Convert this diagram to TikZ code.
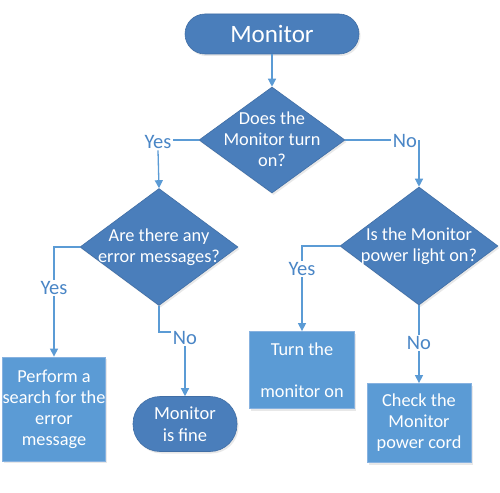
\documentclass[tikz,border=0pt]{standalone}
\usepackage{fontspec}
\setmainfont{Carlito}
\usetikzlibrary{shapes.geometric,arrows.meta,shadows}
\definecolor{dkblue}{RGB}{74,126,187}
\definecolor{dkedge}{RGB}{64,110,165}
\definecolor{ltblue}{RGB}{91,155,213}
\definecolor{ltedge}{RGB}{135,178,224}
\definecolor{lnblue}{RGB}{91,155,213}
\definecolor{lblblue}{RGB}{74,134,198}
\begin{document}
\begin{tikzpicture}[x=1pt,y=-1pt,
  txt/.style={font=\fontsize{18.3}{21}\selectfont, text=white, align=center, inner sep=0pt},
  shad/.style={drop shadow={opacity=0.18, shadow xshift=1.5pt, shadow yshift=-2pt}},
  term/.style={txt, rectangle, fill=dkblue, draw=dkedge, line width=0.6pt, shad},
  dia/.style={diamond, fill=dkblue, draw=dkedge, line width=0.6pt, inner sep=0pt, shad},
  box/.style={txt, rectangle, fill=ltblue, draw=ltedge, line width=0.8pt, shad},
  lbl/.style={font=\fontsize{20.5}{23}\selectfont, text=lblblue, fill=white, inner sep=1.5pt},
  ln/.style={draw=lnblue, line width=1.3pt},
  arr/.style={ln, -{Triangle[width=8pt,length=8pt]}}]
\useasboundingbox[fill=white] (0,0) rectangle (500,492);

% shapes
\node[term, minimum width=174pt, minimum height=40pt, rounded corners=20pt,
      font=\fontsize{25}{29}\selectfont] (top) at (272,34) {Monitor};
\node[dia, minimum width=146pt, minimum height=106pt] (d1) at (272,140) {};
\node[txt] (d1t) at (272,139) {Does the\\Monitor turn\\on?};
\node[dia, minimum width=158pt, minimum height=117pt] (d2) at (159,247) {};
\node[txt] (d2t) at (159,247) {Are there any\\error messages?};
\node[dia, minimum width=158pt, minimum height=118pt] (d3) at (419,246) {};
\node[txt] (d3t) at (419,246) {Is the Monitor\\power light on?};

\node[box, minimum width=103pt, minimum height=104pt] (perform) at (54,409)
  {Perform a\\search for the\\error\\message};
\node[term, minimum width=104pt, minimum height=55pt, rounded corners=27pt,
      font=\fontsize{18.5}{21.5}\selectfont] (fine) at (185,424) {Monitor\\is fine};
\node[box, minimum width=105pt, minimum height=77pt] (turn) at (302,370)
  {Turn the\\\mbox{}\\monitor on};
\node[box, minimum width=104pt, minimum height=79pt] (check) at (419,423)
  {Check the\\Monitor\\power cord};

% labels
\node[lbl] (yes1) at (158,142) {Yes};
\node[lbl] (no1) at (405,141) {No};
\node[lbl] (yes2) at (54,288) {Yes};
\node[lbl] (no2) at (185,338) {No};
\node[lbl] (yes3) at (302,269) {Yes};
\node[lbl] (no3) at (419,343) {No};

% connectors
\draw[arr] (top.south) -- (d1.north);
\draw[ln] (d1.west) -- (d1.west -| yes1.east);
\draw[arr] (yes1.south) -- (d2.north);
\draw[ln] (d1.east) -- (d1.east -| no1.west);
\draw[arr] (d3.north |- d1.east) -- (d3.north);
\draw[ln] (d2.west) -| (yes2.north);
\draw[arr] (yes2.south) -- (perform.north);
\draw[ln] (d2.south) |- ([yshift=6pt]no2.west);
\draw[arr] (no2.south) -- (fine.north);
\draw[ln] (d3.west) -| (yes3.north);
\draw[arr] (yes3.south) -- (turn.north);
\draw[ln] (d3.south) -- (no3.north);
\draw[arr] (no3.south) -- (check.north);
\end{tikzpicture}
\end{document}
